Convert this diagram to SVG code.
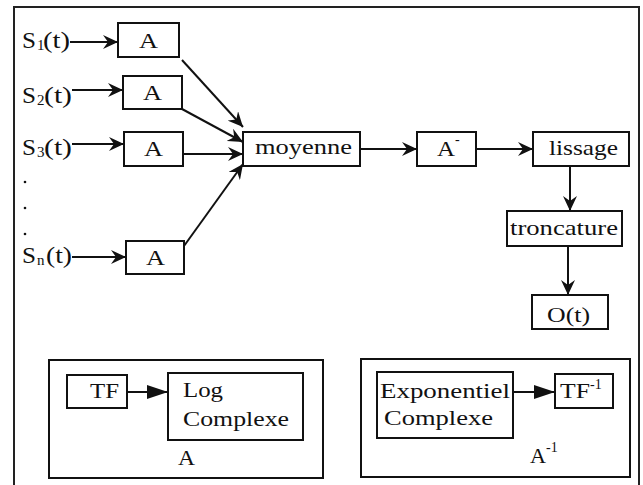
<svg xmlns="http://www.w3.org/2000/svg" width="643" height="485" viewBox="0 0 643 485">
<style>
.box{fill:none;stroke:#111;stroke-width:2}
.frame{fill:none;stroke:#222;stroke-width:2}
.t{font-family:"Liberation Serif","Times New Roman",serif;font-size:22px;fill:#111}
.big{font-size:24px}
.b{font-size:21px}
.sup{font-size:14px}
.sub{font-size:15px}
.ln{fill:none;stroke:#111;stroke-width:2}
.arr{marker-end:url(#barb)}
.tri{marker-end:url(#tri)}
</style>
<defs>
<marker id="barb" markerUnits="userSpaceOnUse" markerWidth="16" markerHeight="14" refX="15" refY="7" orient="auto">
<path d="M0,0 L15,7 L0,14 L5,7 z" fill="#111"/>
</marker>
<marker id="tri" markerUnits="userSpaceOnUse" markerWidth="22" markerHeight="16" refX="21" refY="7" orient="auto">
<path d="M0,0 L21,7 L0,14 z" fill="#111"/>
</marker>
</defs>
<rect width="643" height="485" fill="#fff"/>
<rect class="frame" x="14" y="7" width="625" height="490"/>

<g id="s1"><text class="t big" x="22" y="48" textLength="14" lengthAdjust="spacingAndGlyphs">S</text><text class="t sub" x="37" y="50">1</text><text class="t big" x="43" y="48" textLength="27" lengthAdjust="spacingAndGlyphs">(t)</text></g>
<g id="s2"><text class="t big" x="22" y="103" textLength="14" lengthAdjust="spacingAndGlyphs">S</text><text class="t sub" x="37" y="105">2</text><text class="t big" x="44" y="103" textLength="28" lengthAdjust="spacingAndGlyphs">(t)</text></g>
<g id="s3"><text class="t big" x="22" y="155" textLength="14" lengthAdjust="spacingAndGlyphs">S</text><text class="t sub" x="37" y="157">3</text><text class="t big" x="44" y="155" textLength="28" lengthAdjust="spacingAndGlyphs">(t)</text></g>
<g id="dots" fill="#111"><circle cx="25" cy="182" r="1.3"/><circle cx="25" cy="208" r="1.3"/><circle cx="25" cy="234" r="1.3"/></g>
<g id="sn"><text class="t big" x="22" y="263" textLength="14" lengthAdjust="spacingAndGlyphs">S</text><text class="t sub" x="37" y="265">n</text><text class="t big" x="46" y="263" textLength="26" lengthAdjust="spacingAndGlyphs">(t)</text></g>

<g id="a1"><rect class="box" x="118" y="23" width="61" height="34"/><text class="t" x="139" y="48" textLength="19" lengthAdjust="spacingAndGlyphs">A</text></g>
<g id="a2"><rect class="box" x="123" y="76" width="59" height="33"/><text class="t" x="143" y="100" textLength="19" lengthAdjust="spacingAndGlyphs">A</text></g>
<g id="a3"><rect class="box" x="124" y="132" width="59" height="34"/><text class="t" x="144" y="156" textLength="19" lengthAdjust="spacingAndGlyphs">A</text></g>
<g id="a4"><rect class="box" x="126" y="241" width="58" height="33"/><text class="t" x="146" y="265" textLength="19" lengthAdjust="spacingAndGlyphs">A</text></g>

<g id="moyenne"><rect class="box" x="243" y="132" width="117" height="34"/><text class="t" x="255" y="154" textLength="97" lengthAdjust="spacingAndGlyphs">moyenne</text></g>
<g id="ainv"><rect class="box" x="417" y="132" width="59" height="34"/><text class="t" x="437" y="156" textLength="18" lengthAdjust="spacingAndGlyphs">A</text><text class="t sup" x="455" y="144">-</text></g>
<g id="lissage"><rect class="box" x="533" y="132" width="96" height="34"/><text class="t" x="549" y="155" textLength="69" lengthAdjust="spacingAndGlyphs">lissage</text></g>
<g id="troncature"><rect class="box" x="507" y="211" width="115" height="35"/><text class="t" x="510" y="235" textLength="108" lengthAdjust="spacingAndGlyphs">troncature</text></g>
<g id="ot"><rect class="box" x="532" y="295" width="76" height="34"/><text class="t" x="547" y="322" textLength="43" lengthAdjust="spacingAndGlyphs">O(t)</text></g>

<g id="connectors">
<line class="ln arr" x1="70" y1="42" x2="118" y2="42"/>
<line class="ln arr" x1="72" y1="90" x2="123" y2="90"/>
<line class="ln arr" x1="72" y1="144" x2="124" y2="144"/>
<line class="ln arr" x1="72" y1="257" x2="126" y2="257"/>
<line class="ln arr" x1="182" y1="60" x2="243" y2="127"/>
<line class="ln arr" x1="182" y1="109" x2="243" y2="142"/>
<line class="ln arr" x1="183" y1="154" x2="243" y2="154"/>
<line class="ln arr" x1="184" y1="246" x2="243" y2="164"/>
<line class="ln arr" x1="360" y1="149" x2="417" y2="149"/>
<line class="ln arr" x1="476" y1="149" x2="533" y2="149"/>
<line class="ln arr" x1="570" y1="166" x2="570" y2="211"/>
<line class="ln arr" x1="568" y1="246" x2="568" y2="295"/>
<line class="ln tri" x1="127" y1="392" x2="168" y2="392"/>
<line class="ln tri" x1="513" y1="392" x2="555" y2="392"/>
</g>

<g id="legendA">
<rect class="box" x="49" y="360" width="274" height="118"/>
<g id="tf"><rect class="box" x="67" y="375" width="60" height="33"/><text class="t b" x="90" y="398" textLength="29" lengthAdjust="spacingAndGlyphs">TF</text></g>
<g id="logc"><rect class="box" x="168" y="373" width="135" height="67"/><text class="t b" x="183" y="397" textLength="40" lengthAdjust="spacingAndGlyphs">Log</text><text class="t b" x="183" y="426" textLength="106" lengthAdjust="spacingAndGlyphs">Complexe</text></g>
<text class="t b" x="178" y="465" textLength="17" lengthAdjust="spacingAndGlyphs">A</text>
</g>

<g id="legendAinv">
<rect class="box" x="361" y="359" width="269" height="118"/>
<g id="expc"><rect class="box" x="377" y="372" width="136" height="66"/><text class="t b" x="380" y="398" textLength="130" lengthAdjust="spacingAndGlyphs">Exponentiel</text><text class="t b" x="384" y="425" textLength="109" lengthAdjust="spacingAndGlyphs">Complexe</text></g>
<g id="tfinv"><rect class="box" x="555" y="374" width="58" height="34"/><text class="t b" x="560" y="398" textLength="30" lengthAdjust="spacingAndGlyphs">TF</text><text class="t sup" x="590" y="389">-1</text></g>
<text class="t b" x="530" y="463" textLength="16" lengthAdjust="spacingAndGlyphs">A</text><text class="t sup" x="546" y="452">-1</text>
</g>
</svg>
